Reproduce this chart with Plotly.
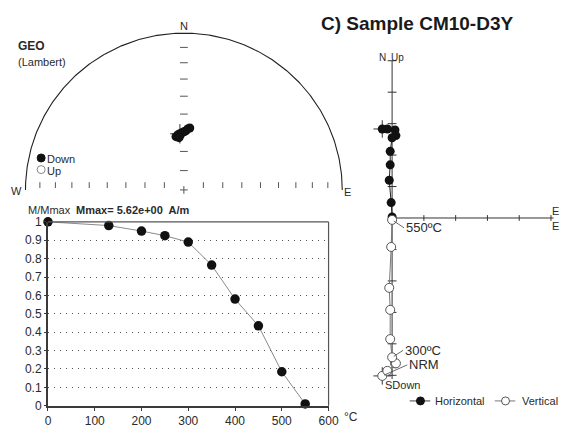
import numpy as np
import plotly.graph_objects as go

W, H = 582, 436
FONT = "Liberation Sans, Arial, sans-serif"
INK = "#2a2a2a"

# ---------------- data ----------------
# Thermal demagnetisation steps (degrees C)
steps = [0, 130, 200, 250, 300, 350, 400, 450, 500, 550]
# Normalised remanence M/Mmax for each step
m_norm = [1.0, 0.98, 0.95, 0.925, 0.89, 0.765, 0.58, 0.435, 0.185, 0.01]

# Orthogonal components of the remanence vector (A/m)
comp_e = [-0.31, -0.15, 0.09, 0.12, 0.00, -0.06, -0.06, -0.09, -0.03, 0.00]
comp_n = [2.83, 2.83, 2.80, 2.62, 2.55, 2.12, 1.69, 1.20, 0.49, 0.03]
comp_up = [-5.02, -4.86, -4.62, -4.62, -4.43, -3.85, -2.92, -2.22, -0.92, -0.06]

# Directions in geographic coordinates (declination, inclination)
dec = [356.0, 351.7, 354.0, 355.9, 358.1, 0.0, 1.9, 3.6, 5.4, 354.7]
inc = [60.6, 61.9, 61.0, 61.6, 60.1, 59.6, 59.1, 58.0, 57.4, 62.6]

x_ticks = [0, 100, 200, 300, 400, 500, 600]
y_ticks = [0, 0.1, 0.2, 0.3, 0.4, 0.5, 0.6, 0.7, 0.8, 0.9, 1.0]
y_ticktext = ["0", "0.1", "0.2", "0.3", "0.4", "0.5", "0.6", "0.7", "0.8", "0.9", "1"]


def px(x):
    return x / W


def py(y):
    return 1 - y / H


def lambert(d, i):
    d = np.radians(np.asarray(d, float))
    r = np.sqrt(2) * np.sin(np.radians((90 - np.asarray(i, float)) / 2))
    return r * np.sin(d), r * np.cos(d)


fig = go.Figure()

# ---------------- stereonet (Lambert, upper half shown) ----------------
R_PX, CX, CY = 162.0, 185.0, 189.0
SX = [(13 - CX) / R_PX, (357 - CX) / R_PX]
SY = [(CY - 199) / R_PX, (CY - 15) / R_PX]
u = 1 / R_PX  # one pixel in stereonet units

t = np.linspace(0, np.pi, 241)
fig.add_trace(go.Scatter(x=np.cos(t), y=np.sin(t), mode="lines",
                         line=dict(color="#222", width=1.1),
                         xaxis="x", yaxis="y", hoverinfo="skip"))

tick_inc = np.arange(10, 90, 10)
tick_r = np.sqrt(2) * np.sin(np.radians((90 - tick_inc) / 2))
tx, ty = [], []
for r in tick_r:
    tx += [-4 * u, 4 * u, None]
    ty += [r, r, None]
    for s in (-1, 1):
        tx += [s * r, s * r, None]
        ty += [2 * u, 8 * u, None]
tx += [-4 * u, 4 * u, None, 0, 0, None]
ty += [0, 0, None, 4 * u, -4 * u, None]
fig.add_trace(go.Scatter(x=tx, y=ty, mode="lines", line=dict(color="#555", width=1),
                         xaxis="x", yaxis="y", hoverinfo="skip"))

sx, sy = lambert(dec, inc)
fig.add_trace(go.Scatter(x=sx[:1].tolist() * 2 + [None] + [sx[0] - 10 * u, sx[0] + 2 * u],
                         y=[sy[0] - 10 * u, sy[0] + 10 * u, None, sy[0], sy[0]],
                         mode="lines", line=dict(color="#333", width=1),
                         xaxis="x", yaxis="y", hoverinfo="skip"))
fig.add_trace(go.Scatter(x=sx, y=sy, mode="markers",
                         marker=dict(size=9, color="#111", line=dict(width=0)),
                         xaxis="x", yaxis="y"))

# ---------------- orthogonal vector plot ----------------
S, OX, OY = 32.5, 398.0, 218.0
ZX = [(360 - OX) / S, (580 - OX) / S]
ZY = [(OY - 400) / S, (OY - 40) / S]
v = 1 / S

ax_x = [0, 0, None, 0, 5.08, None]
ax_y = [-5.12, 5.0, None, 0, 0, None]
for k in range(1, 6):
    ax_x += [k, k, None]
    ax_y += [-3 * v, 3 * v, None]
    for s in (-1, 1):
        ax_x += [-4.5 * v, 4.5 * v, None]
        ax_y += [s * k, s * k, None]
fig.add_trace(go.Scatter(x=ax_x, y=ax_y, mode="lines", line=dict(color="#333", width=1),
                         xaxis="x2", yaxis="y2", hoverinfo="skip"))

# crosshairs on the NRM points
cx_x, cx_y = [], []
for yy in (comp_n[0], comp_up[0]):
    cx_x += [comp_e[0] - 9 * v, comp_e[0] + 9 * v, None, comp_e[0], comp_e[0], None]
    cx_y += [yy, yy, None, yy - 9 * v, yy + 9 * v, None]
fig.add_trace(go.Scatter(x=cx_x, y=cx_y, mode="lines", line=dict(color="#333", width=1),
                         xaxis="x2", yaxis="y2", hoverinfo="skip"))

fig.add_trace(go.Scatter(x=comp_e, y=comp_n, mode="lines+markers", name="Horizontal",
                         line=dict(color="#222", width=1),
                         marker=dict(size=9, color="#111", line=dict(width=0)),
                         xaxis="x2", yaxis="y2"))
fig.add_trace(go.Scatter(x=comp_e, y=comp_up, mode="lines+markers", name="Vertical",
                         line=dict(color="#777", width=1),
                         marker=dict(size=9, color="white", line=dict(color="#555", width=1)),
                         xaxis="x2", yaxis="y2"))

# ---------------- demagnetisation curve ----------------
fig.add_trace(go.Scatter(x=steps, y=m_norm, mode="lines+markers",
                         line=dict(color="#8a8a8a", width=1),
                         marker=dict(size=9.5, color="#111", line=dict(width=0)),
                         cliponaxis=False, xaxis="x3", yaxis="y3"))

hidden = dict(visible=False, fixedrange=True)
fig.update_layout(
    width=W, height=H, margin=dict(l=0, r=0, t=0, b=0),
    paper_bgcolor="white", plot_bgcolor="rgba(0,0,0,0)",
    showlegend=False,
    font=dict(family=FONT, color=INK),
    xaxis=dict(domain=[px(13), px(357)], range=SX, anchor="y", **hidden),
    yaxis=dict(domain=[py(199), py(15)], range=SY, anchor="x", **hidden),
    xaxis2=dict(domain=[px(360), px(580)], range=ZX, anchor="y2", **hidden),
    yaxis2=dict(domain=[py(400), py(40)], range=ZY, anchor="x2", **hidden),
    xaxis3=dict(domain=[px(46), px(333)], range=[0, 600], anchor="y3",
                tickvals=x_ticks, showgrid=False, zeroline=False,
                showline=True, linecolor="#3a3a3a", linewidth=2,
                ticks="outside", ticklen=3, tickcolor="#3a3a3a",
                tickfont=dict(size=12, color=INK)),
    yaxis3=dict(domain=[py(412), py(222)], range=[0, 1], anchor="x3",
                tickvals=y_ticks, ticktext=y_ticktext, zeroline=False,
                showgrid=True, gridcolor="#555", gridwidth=1, griddash="1px,5px",
                showline=True, linecolor="#3a3a3a", linewidth=2,
                ticks="outside", ticklen=2, tickcolor="#3a3a3a",
                tickfont=dict(size=12, color=INK)),
)

# thinner top and right frame of the demagnetisation panel
shapes = [
    dict(type="line", xref="x3 domain", yref="y3 domain", x0=0, x1=1, y0=1, y1=1,
         line=dict(color="#555", width=1.2)),
    dict(type="line", xref="x3 domain", yref="y3 domain", x0=1, x1=1, y0=0, y1=1,
         line=dict(color="#555", width=1.2)),
]


def dot(cx, cy, d, fill, edge):
    return dict(type="circle", xref="paper", yref="paper",
                xsizemode="pixel", ysizemode="pixel",
                xanchor=px(cx), yanchor=py(cy),
                x0=-d / 2, x1=d / 2, y0=-d / 2, y1=d / 2,
                fillcolor=fill, line=dict(color=edge, width=1))


def seg(x0, x1, y, color="#444"):
    return dict(type="line", xref="paper", yref="paper",
                x0=px(x0), x1=px(x1), y0=py(y), y1=py(y),
                line=dict(color=color, width=1))


# legend keys
shapes += [dot(39, 156, 8, "#111", "#111"), dot(39, 168, 8, "white", "#888")]
shapes += [seg(416, 437, 407), dot(427, 407, 8, "#111", "#111"),
           seg(503, 524, 407, "#777"), dot(514, 407, 8, "white", "#555")]
fig.update_layout(shapes=shapes)


def label(text, x, y, size=11, anchor="center", color=INK):
    return dict(text=text, x=px(x), y=py(y), xref="paper", yref="paper",
                showarrow=False, xanchor=anchor, yanchor="middle", borderpad=0,
                font=dict(family=FONT, size=size, color=color))


def leader(text, x, y, dx, dy):
    return dict(text=text, x=x, y=y, xref="x2", yref="y2", showarrow=True,
                arrowhead=0, arrowwidth=0.8, arrowcolor="#444", ax=dx, ay=dy,
                xanchor="left", yanchor="middle", standoff=2,
                font=dict(family=FONT, size=13, color=INK))


annotations = [
    label("<b>C) Sample CM10-D3Y</b>", 324, 17, size=19, anchor="left", color="#1a1a1a"),
    label("<b>GEO</b>", 14, 40, size=12, anchor="left"),
    label("(Lambert)", 14, 57, size=11, anchor="left"),
    label("Down", 44, 157, size=11, anchor="left"),
    label("Up", 44, 169, size=11, anchor="left"),
    label("N", 185, 20, size=11),
    label("W", 14, 190, size=11),
    label("E", 352, 191, size=11),
    label("N", 393, 52, size=10, anchor="right"),
    label("Up", 396, 52, size=10, anchor="left"),
    label("E", 565, 211, size=11),
    label("E", 565, 226, size=11),
    label("SDown", 390, 391, size=11, anchor="left"),
    label("Horizontal", 441, 407, size=11, anchor="left"),
    label("Vertical", 530, 407, size=11, anchor="left"),
    label("M/Mmax", 25, 209.5, size=11, anchor="left"),
    label("<b>Mmax= 5.62e+00  A/m</b>", 74, 209.5, size=11, anchor="left"),
    label("°C", 356, 424, size=12),
    leader("550ºC", comp_e[9], comp_up[9], 12, 8),
    leader("300ºC", comp_e[4], comp_up[4], 11, -7),
    leader("NRM", comp_e[0], comp_up[0], 25, -11),
]
fig.update_layout(annotations=annotations)

fig.write_html("out.html")
